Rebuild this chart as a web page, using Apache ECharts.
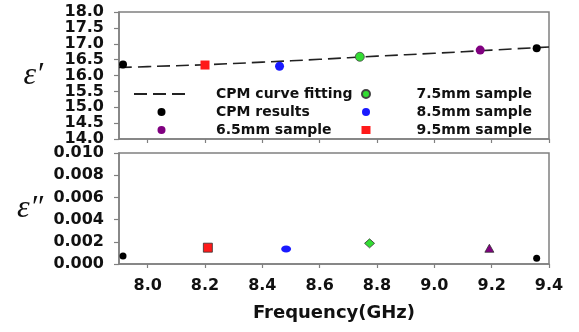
<!DOCTYPE html>
<html>
<head>
<meta charset="utf-8">
<script src="https://cdn.jsdelivr.net/npm/echarts@6/dist/echarts.min.js"></script>
<style>
  html, body { margin: 0; padding: 0; background: #fff; }
  #chart { width: 579px; height: 332px; }
</style>
</head>
<body>
<div id="chart"></div>
<script>
// Frequency ticks (GHz)
const xTicks = [8.0, 8.2, 8.4, 8.6, 8.8, 9.0, 9.2, 9.4]

// CPM curve fitting (real part)
const fitFreq = [7.9, 8.0, 8.2, 8.4, 8.6, 8.8, 9.0, 9.2, 9.4]
const fitEps = [16.25, 16.28, 16.34, 16.42, 16.51, 16.61, 16.7, 16.8, 16.9]

// CPM results
const cpmFreq = [7.914, 9.357]
const cpmReal = [16.35, 16.86]
const cpmImag = [0.00072, 0.00051]

// samples: name, freq (top), real, freq (bottom), imag
const sampleNames = ['6.5mm sample', '7.5mm sample', '8.5mm sample', '9.5mm sample']
const sampleFreqTop = [9.16, 8.74, 8.46, 8.2]
const sampleReal = [16.8, 16.59, 16.29, 16.33]
const sampleFreqBot = [9.192, 8.774, 8.483, 8.21]
const sampleImag = [0.00142, 0.00186, 0.00135, 0.00147]

// Colors
const COLOR_FRAME = '#808080'
const COLOR_TEXT = '#111'
const sampleColors = ['#800080', '#33dd33', '#1a1aff', '#ff1a1a']
const sampleSymbolsBot = ['triangle', 'diamond', 'circle', 'rect']
const sampleSizeBot = [[9, 8], [10, 9], [10, 7], [9, 9]]

const FONT = 'DejaVu Sans'

const chart = echarts.init(document.getElementById('chart'))

const xAxisBase = (gridIndex, showLabels) => ({
  type: 'value',
  gridIndex,
  min: 7.9,
  max: 9.4,
  axisLine: { onZero: false, lineStyle: { color: COLOR_FRAME, width: 1.5 } },
  axisTick: { show: true, length: 4, customValues: xTicks, lineStyle: { color: COLOR_FRAME, width: 1.2 } },
  axisLabel: {
    show: showLabels,
    customValues: xTicks,
    margin: 14,
    color: COLOR_TEXT,
    fontFamily: FONT,
    fontWeight: 'bold',
    fontSize: 16,
    formatter: (v) => v.toFixed(1),
  },
  splitLine: { show: false },
})

const yLabel = (digits) => ({
  margin: 15,
  color: COLOR_TEXT,
  fontFamily: FONT,
  fontWeight: 'bold',
  fontSize: 16,
  formatter: (v) => v.toFixed(digits),
})

const series = [
  {
    name: 'CPM curve fitting',
    type: 'line',
    xAxisIndex: 0,
    yAxisIndex: 0,
    smooth: true,
    symbol: 'none',
    itemStyle: { color: '#222' },
    lineStyle: { color: '#222', width: 1.6, type: [13, 6] },
    data: fitFreq.map((f, i) => [f, fitEps[i]]),
    z: 1,
  },
  {
    name: 'CPM results',
    type: 'scatter',
    xAxisIndex: 0,
    yAxisIndex: 0,
    symbol: 'circle',
    symbolSize: 8,
    itemStyle: { color: '#000', opacity: 1 },
    data: cpmFreq.map((f, i) => [f, cpmReal[i]]),
    z: 3,
  },
]

sampleNames.forEach((name, i) => {
  series.push({
    name,
    type: 'scatter',
    xAxisIndex: 0,
    yAxisIndex: 0,
    symbol: i === 3 ? 'rect' : 'circle',
    symbolSize: 9,
    itemStyle: { color: sampleColors[i], opacity: 1, borderColor: '#444', borderWidth: i === 1 ? 0.8 : 0 },
    data: [[sampleFreqTop[i], sampleReal[i]]],
    z: 3,
  })
})

// bottom panel: imaginary part
series.push({
  name: 'CPM results (imag)',
  type: 'scatter',
  xAxisIndex: 1,
  yAxisIndex: 1,
  symbol: 'circle',
  symbolSize: 7,
  itemStyle: { color: '#000', opacity: 1 },
  data: cpmFreq.map((f, i) => [f, cpmImag[i]]),
})
sampleNames.forEach((name, i) => {
  series.push({
    name: name + ' (imag)',
    type: 'scatter',
    xAxisIndex: 1,
    yAxisIndex: 1,
    symbol: sampleSymbolsBot[i],
    symbolSize: sampleSizeBot[i],
    itemStyle: { color: sampleColors[i], opacity: 1, borderColor: '#333', borderWidth: i === 2 ? 0 : 0.8 },
    data: [[sampleFreqBot[i], sampleImag[i]]],
  })
})

const legendText = {
  color: COLOR_TEXT,
  fontFamily: FONT,
  fontWeight: 'bold',
  fontSize: 14,
}

chart.setOption({
  animation: false,
  backgroundColor: '#fff',
  grid: [
    { left: 119, right: 30, top: 12, height: 127, show: true, borderColor: COLOR_FRAME, borderWidth: 1.5 },
    { left: 119, right: 30, top: 153, height: 111, show: true, borderColor: COLOR_FRAME, borderWidth: 1.5 },
  ],
  xAxis: [
    xAxisBase(0, false),
    {
      ...xAxisBase(1, true),
      name: 'Frequency(GHz)',
      nameLocation: 'middle',
      nameGap: 40,
      nameTextStyle: { color: COLOR_TEXT, fontFamily: FONT, fontWeight: 'bold', fontSize: 18 },
    },
  ],
  yAxis: [
    {
      type: 'value',
      gridIndex: 0,
      min: 14,
      max: 18,
      interval: 0.5,
      name: 'ε′',
      nameLocation: 'middle',
      nameRotate: 0,
      nameGap: 76,
      nameTextStyle: { color: COLOR_TEXT, fontFamily: 'Liberation Serif', fontStyle: 'italic', fontSize: 32 },
      axisLine: { show: true, lineStyle: { color: COLOR_FRAME, width: 1.5 } },
      axisTick: { show: true, length: 5, lineStyle: { color: COLOR_FRAME, width: 1.2 } },
      axisLabel: yLabel(1),
      splitLine: { show: false },
    },
    {
      type: 'value',
      gridIndex: 1,
      min: 0,
      max: 0.01,
      interval: 0.002,
      name: 'ε″',
      nameLocation: 'middle',
      nameRotate: 0,
      nameGap: 76,
      nameTextStyle: { color: COLOR_TEXT, fontFamily: 'Liberation Serif', fontStyle: 'italic', fontSize: 32 },
      axisLine: { show: true, lineStyle: { color: COLOR_FRAME, width: 1.5 } },
      axisTick: { show: true, length: 5, lineStyle: { color: COLOR_FRAME, width: 1.2 } },
      axisLabel: yLabel(3),
      splitLine: { show: false },
    },
  ],
  legend: [
    {
      data: [
        { name: 'CPM curve fitting', itemStyle: { opacity: 0 } },
        'CPM results',
        sampleNames[0],
      ],
      orient: 'vertical',
      left: 133,
      top: 87,
      padding: 0,
      itemWidth: 55,
      itemHeight: 8,
      itemGap: 4,
      textStyle: { ...legendText, padding: [0, 0, 0, 22] },
      selectedMode: false,
    },
    {
      data: sampleNames.slice(1),
      orient: 'vertical',
      left: 361,
      top: 87,
      padding: 0,
      itemWidth: 9,
      itemHeight: 8,
      itemGap: 4,
      textStyle: { ...legendText, padding: [0, 0, 0, 41] },
      selectedMode: false,
    },
  ],
  series,
})
</script>
</body>
</html>
